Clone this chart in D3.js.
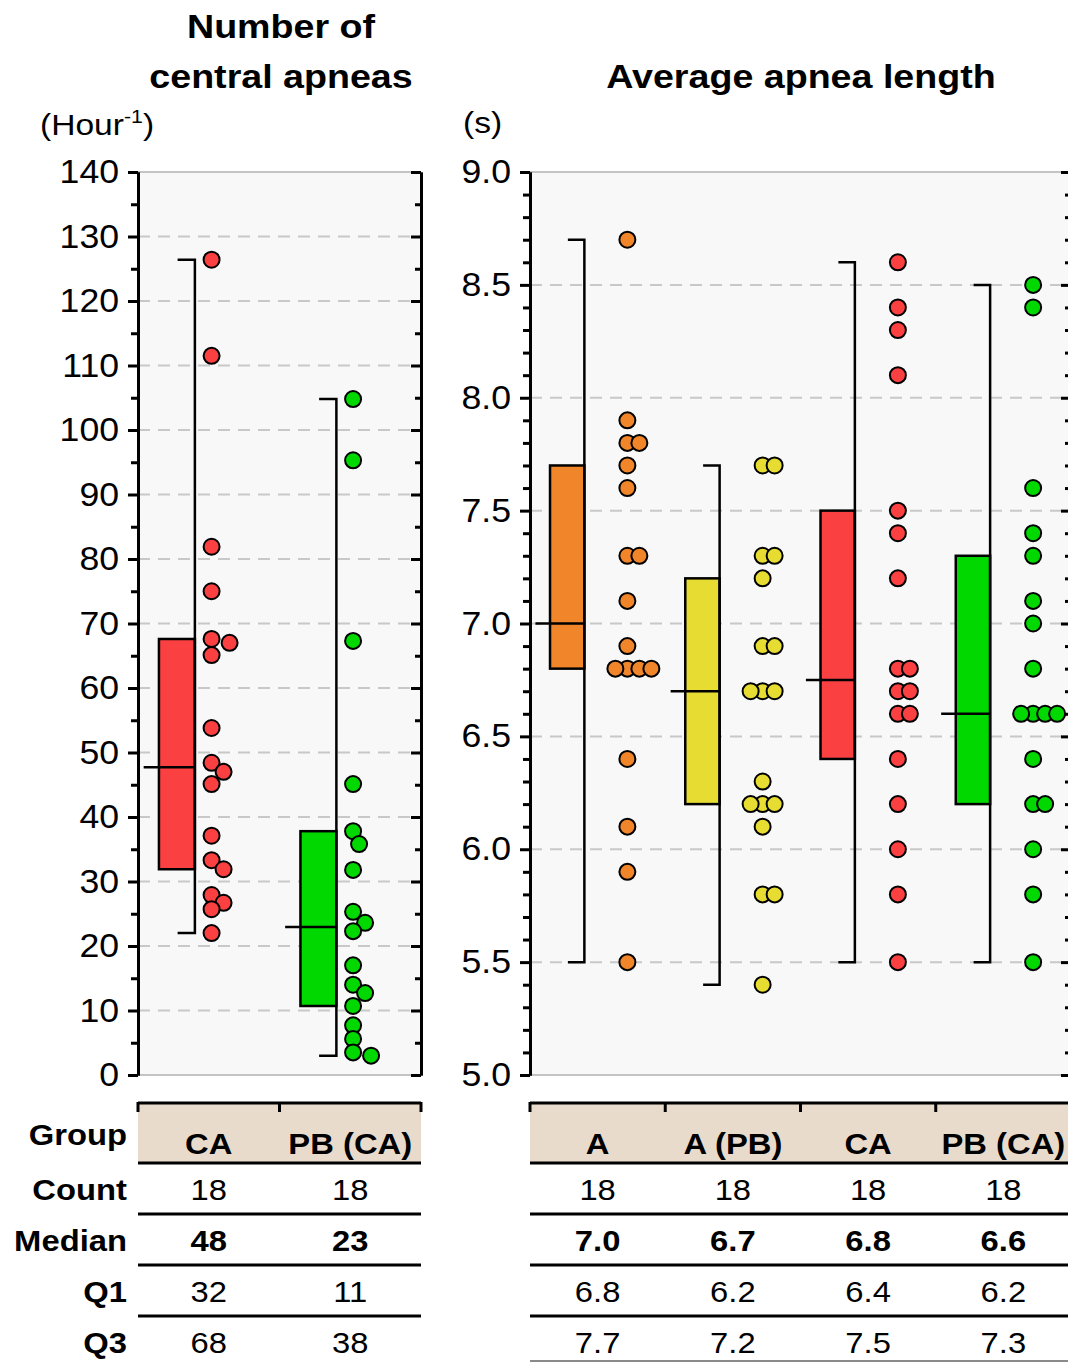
<!DOCTYPE html>
<html>
<head>
<meta charset="utf-8">
<script src="https://cdn.jsdelivr.net/npm/d3@7"></script>
<style>
  body { margin: 0; background: #fff; }
  svg text { font-family: "Liberation Sans", Arial, sans-serif; fill: #000; }
</style>
</head>
<body>
<svg id="chart" width="1068" height="1363"></svg>
<script>
// central apneas per hour, one value per patient
const apneaGroups = ['CA', 'PB (CA)'];
const apneaCA = [126.4, 111.5, 81.9, 75.0, 67.6, 67.0, 65.1, 53.8, 48.4, 47.0, 45.1, 37.1, 33.3, 31.9, 27.9, 26.7, 25.7, 22.0];
const apneaPBCA = [104.8, 95.3, 67.3, 45.1, 37.8, 35.8, 31.8, 25.3, 23.6, 22.3, 17.0, 14.0, 12.7, 10.7, 7.7, 5.6, 3.5, 3.0];
const apneaTicks = d3.range(0, 141, 10);
const apneaMinor = d3.range(5, 140, 10);

// average apnea length (s)
const lengthGroups = ['A', 'A (PB)', 'CA', 'PB (CA)'];
const lengthA = [8.7, 7.9, 7.8, 7.8, 7.7, 7.6, 7.3, 7.3, 7.1, 6.9, 6.8, 6.8, 6.8, 6.8, 6.4, 6.1, 5.9, 5.5];
const lengthAPB = [7.7, 7.7, 7.3, 7.3, 7.2, 6.9, 6.9, 6.7, 6.7, 6.7, 6.3, 6.2, 6.2, 6.2, 6.1, 5.8, 5.8, 5.4];
const lengthCA = [8.6, 8.4, 8.3, 8.1, 7.5, 7.4, 7.2, 6.8, 6.8, 6.7, 6.7, 6.6, 6.6, 6.4, 6.2, 6.0, 5.8, 5.5];
const lengthPBCA = [8.5, 8.4, 7.6, 7.4, 7.3, 7.1, 7.0, 6.8, 6.6, 6.6, 6.6, 6.6, 6.4, 6.2, 6.2, 6.0, 5.8, 5.5];
const lengthTicks = d3.range(50, 91, 5).map(d => d / 10);
const lengthMinor = d3.range(50, 91, 1).filter(d => d % 5 !== 0).map(d => d / 10);

// summary tables
const statLabels = ['Count', 'Median', 'Q1', 'Q3'];
const apneaCount = ['18', '18'];
const apneaMedian = ['48', '23'];
const apneaQ1 = ['32', '11'];
const apneaQ3 = ['68', '38'];
const lengthCount = ['18', '18', '18', '18'];
const lengthMedian = ['7.0', '6.7', '6.8', '6.6'];
const lengthQ1 = ['6.8', '6.2', '6.4', '6.2'];
const lengthQ3 = ['7.7', '7.2', '7.5', '7.3'];

const apneaColors = ['#fa4040', '#00d800'];
const lengthColors = ['#f0852a', '#e6dc32', '#fa4040', '#00d800'];

const svg = d3.select('#chart');
const plotTop = 172, plotBottom = 1075;

// the source font renders a bit wider than Arial, so widen text around its anchor
function stretch(sel, sx) {
  sel.each(function () {
    const t = d3.select(this);
    const x = +t.attr('x') || 0;
    t.attr('transform', `matrix(${sx},0,0,1,${x * (1 - sx)},0)`);
  });
}

// box stats with Tukey hinges, whiskers at min / max
function boxStats(values) {
  const s = values.slice().sort(d3.ascending);
  const n = s.length;
  return {
    min: s[0],
    max: s[n - 1],
    median: d3.median(s),
    q1: d3.median(s.slice(0, Math.ceil(n / 2))),
    q3: d3.median(s.slice(Math.floor(n / 2)))
  };
}

// simple dodge so dots do not pile on top of each other
function dodge(values, y, cx, step, minDist, mode) {
  const placed = [];
  return values.map(v => {
    const py = y(v);
    let k = 0, px;
    while (true) {
      const off = mode === 'right' ? k * step : (k % 2 ? 1 : -1) * Math.ceil(k / 2) * step;
      px = cx + off;
      if (placed.every(p => Math.hypot(p[0] - px, p[1] - py) >= minDist)) break;
      k++;
    }
    placed.push([px, py]);
    return [px, py];
  });
}

function drawPanel(cfg) {
  const { x, y, groups, series, colors, majors, minors, fmt, ptFrac, ptMode } = cfg;
  const [x0, x1] = x.range();
  const bw = x.bandwidth();
  const g = svg.append('g');

  g.append('rect')
    .attr('x', x0).attr('y', plotTop)
    .attr('width', x1 - x0).attr('height', plotBottom - plotTop)
    .attr('fill', '#f8f8f8');

  // dashed grid
  g.selectAll('.grid')
    .data(majors.slice(1, -1))
    .join('line')
    .attr('x1', x0).attr('x2', x1)
    .attr('y1', d => y(d)).attr('y2', d => y(d))
    .attr('stroke', '#c8c8c8')
    .attr('stroke-width', 2)
    .attr('stroke-dasharray', '12,8');

  // frame top / bottom
  [plotTop, plotBottom].forEach(yy => {
    g.append('line')
      .attr('x1', x0).attr('x2', x1).attr('y1', yy).attr('y2', yy)
      .attr('stroke', '#c4c4c4').attr('stroke-width', 2);
  });

  groups.forEach((name, i) => {
    const st = boxStats(series[i]);
    const bx = x(name);
    const left = bx + 0.148 * bw, right = bx + 0.402 * bw;

    g.append('rect')
      .attr('x', left).attr('y', y(st.q3))
      .attr('width', right - left).attr('height', y(st.q1) - y(st.q3))
      .attr('fill', colors[i])
      .attr('stroke', '#000').attr('stroke-width', 2.5);

    // whisker
    g.append('path')
      .attr('d', `M${bx + 0.28 * bw},${y(st.max)}H${right}V${y(st.min)}H${bx + 0.28 * bw}`)
      .attr('fill', 'none')
      .attr('stroke', '#000').attr('stroke-width', 2.5);

    // median
    g.append('line')
      .attr('x1', bx + 0.04 * bw).attr('x2', right)
      .attr('y1', y(st.median)).attr('y2', y(st.median))
      .attr('stroke', '#000').attr('stroke-width', 2.5);

    const pts = dodge(series[i], y, bx + ptFrac * bw, 6, ptMode === 'right' ? 13 : 7, ptMode);
    g.selectAll(null)
      .data(pts)
      .join('circle')
      .attr('cx', d => d[0]).attr('cy', d => d[1])
      .attr('r', 8)
      .attr('fill', colors[i])
      .attr('stroke', '#000').attr('stroke-width', 2);
  });

  // axes
  const ax = [
    d3.axisLeft(y).tickValues(minors).tickSize(7).tickSizeOuter(0).tickFormat(''),
    d3.axisLeft(y).tickValues(majors).tickSize(10).tickSizeOuter(0).tickPadding(9).tickFormat(fmt)
  ];
  ax.forEach(a => g.append('g').attr('transform', `translate(${x0},0)`).call(a));
  const axR = [
    d3.axisRight(y).tickValues(minors).tickSize(-6).tickSizeOuter(0).tickFormat(''),
    d3.axisRight(y).tickValues(majors).tickSize(-10).tickSizeOuter(0).tickFormat('')
  ];
  axR.forEach(a => g.append('g').attr('transform', `translate(${x1},0)`).call(a));

  g.selectAll('.domain, .tick line').attr('stroke', '#000').attr('stroke-width', 3);
  g.selectAll('.tick text')
    .attr('font-size', 33)
    .attr('font-family', '"Liberation Sans", Arial, sans-serif')
    .attr('fill', '#000')
    .call(stretch, 1.08);
}

function drawTable(x, headers, rows, withLabels) {
  const [x0, x1] = x.range();
  const bw = x.bandwidth();
  const g = svg.append('g').attr('font-size', 29);

  g.append('rect')
    .attr('x', x0).attr('y', 1103)
    .attr('width', x1 - x0).attr('height', 60)
    .attr('fill', '#e9dbcc');

  g.append('line')
    .attr('x1', x0).attr('x2', x1).attr('y1', 1103).attr('y2', 1103)
    .attr('stroke', '#000').attr('stroke-width', 3);
  const bounds = headers.map(h => x(h)).concat([x1]);
  g.selectAll('.tk')
    .data(bounds)
    .join('line')
    .attr('x1', d => d).attr('x2', d => d)
    .attr('y1', 1102).attr('y2', 1112)
    .attr('stroke', '#000').attr('stroke-width', 3);

  g.selectAll('.hd')
    .data(headers)
    .join('text')
    .attr('x', d => x(d) + bw / 2)
    .attr('y', 1154)
    .attr('text-anchor', 'middle')
    .attr('font-weight', 'bold')
    .text(d => d);

  rows.forEach((vals, r) => {
    const rowTop = 1163 + r * 51;
    g.append('line')
      .attr('x1', x0).attr('x2', x1).attr('y1', rowTop).attr('y2', rowTop)
      .attr('stroke', '#000').attr('stroke-width', 3);
    g.selectAll(null)
      .data(vals)
      .join('text')
      .attr('x', (d, i) => x(headers[i]) + bw / 2)
      .attr('y', rowTop + 37)
      .attr('text-anchor', 'middle')
      .attr('font-weight', r === 1 ? 'bold' : 'normal')
      .text(d => d);
    if (withLabels) {
      g.append('text')
        .attr('x', 127).attr('y', rowTop + 37)
        .attr('text-anchor', 'end')
        .attr('font-weight', 'bold')
        .text(statLabels[r]);
    }
  });
  if (withLabels) {
    g.append('text')
      .attr('x', 127).attr('y', 1145)
      .attr('text-anchor', 'end')
      .attr('font-weight', 'bold')
      .text('Group');
  }
  g.selectAll('text').call(stretch, 1.13);
}

// scales
const xL = d3.scaleBand().domain(apneaGroups).range([138, 421]);
const yL = d3.scaleLinear().domain([0, 140]).range([plotBottom, plotTop]);
const xR = d3.scaleBand().domain(lengthGroups).range([530, 1071]);
const yR = d3.scaleLinear().domain([5, 9]).range([plotBottom, plotTop]);

drawPanel({
  x: xL, y: yL, groups: apneaGroups, series: [apneaCA, apneaPBCA], colors: apneaColors,
  majors: apneaTicks, minors: apneaMinor, fmt: d3.format('d'), ptFrac: 0.52, ptMode: 'right'
});
drawPanel({
  x: xR, y: yR, groups: lengthGroups, series: [lengthA, lengthAPB, lengthCA, lengthPBCA], colors: lengthColors,
  majors: lengthTicks, minors: lengthMinor, fmt: d3.format('.1f'), ptFrac: 0.72, ptMode: 'both'
});

drawTable(xL, apneaGroups, [apneaCount, apneaMedian, apneaQ1, apneaQ3], true);
drawTable(xR, lengthGroups, [lengthCount, lengthMedian, lengthQ1, lengthQ3], false);
svg.append('line')
  .attr('x1', 530).attr('x2', 1071).attr('y1', 1361).attr('y2', 1361)
  .attr('stroke', '#8a8a8a').attr('stroke-width', 2);

// titles
const titles = svg.append('g')
  .attr('font-size', 33)
  .attr('font-weight', 'bold')
  .attr('text-anchor', 'middle');
titles.append('text').attr('x', 281).attr('y', 38).text('Number of');
titles.append('text').attr('x', 281).attr('y', 88).text('central apneas');
titles.append('text').attr('x', 801).attr('y', 88).text('Average apnea length');
titles.selectAll('text').call(stretch, 1.14);

// units
const unitL = svg.append('text')
  .attr('x', 40).attr('y', 135)
  .attr('font-size', 30);
unitL.append('tspan').text('(Hour');
unitL.append('tspan').attr('dy', -12).attr('font-size', 19).text('-1');
unitL.append('tspan').attr('dy', 12).text(')');
const unitR = svg.append('text')
  .attr('x', 463).attr('y', 133)
  .attr('font-size', 30)
  .text('(s)');
stretch(unitL, 1.12);
stretch(unitR, 1.12);
</script>
</body>
</html>
